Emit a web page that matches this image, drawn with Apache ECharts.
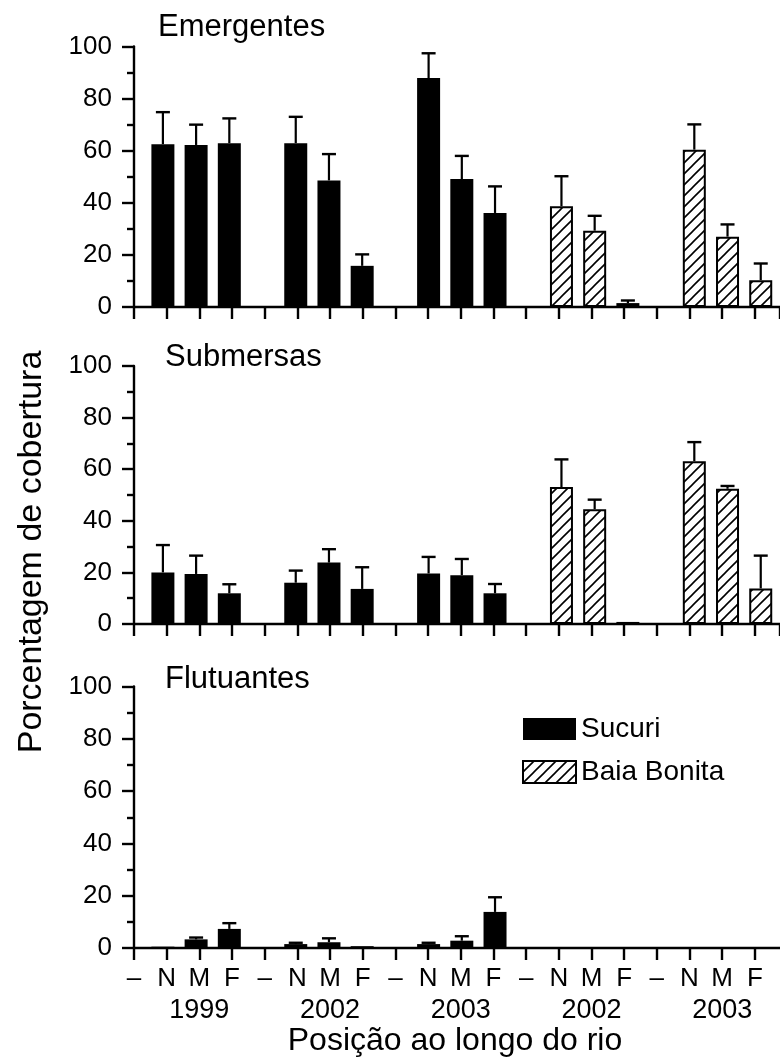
<!DOCTYPE html>
<html>
<head>
<meta charset="utf-8">
<script src="https://cdn.jsdelivr.net/npm/echarts@6/dist/echarts.min.js"></script>
<style>
  html, body { margin: 0; padding: 0; background: #fff; }
  #chart { width: 780px; height: 1062px; }
</style>
</head>
<body>
<div id="chart"></div>
<script>
// Positions along the river: one dash slot then N / M / F, five groups
const slotLabels = ['–','N','M','F','–','N','M','F','–','N','M','F','–','N','M','F','–','N','M','F'];
const yearLabels = { 2: '1999', 6: '2002', 10: '2003', 14: '2002', 18: '2003' };
const panelTitles = ['Emergentes', 'Submersas', 'Flutuantes'];
const seriesNames = ['Sucuri', 'Baia Bonita'];

// Slot index of each bar
const sucuriSlots = [1, 2, 3, 5, 6, 7, 9, 10, 11];
const baiaSlots = [13, 14, 15, 17, 18, 19];

// Emergentes (% cover, mean and upper error)
const emergSucuri    = [62.5, 62.2, 62.9, 62.9, 48.6, 15.8, 87.9, 49.1, 36.1];
const emergSucuriErr = [12.3, 7.8, 9.5, 10.1, 10.1, 4.4, 9.5, 8.9, 10.2];
const emergBaia      = [38.7, 29.3, 1.5, 60.4, 27.0, 10.3];
const emergBaiaErr   = [11.5, 5.7, 1.0, 9.7, 4.7, 6.4];

// Submersas
const submSucuri    = [20.0, 19.4, 11.9, 16.0, 23.8, 13.6, 19.6, 18.9, 11.9];
const submSucuriErr = [10.6, 7.1, 3.5, 4.7, 5.2, 8.4, 6.4, 6.3, 3.6];
const submBaia      = [53.1, 44.5, 0.8, 63.1, 52.4, 13.8];
const submBaiaErr   = [10.7, 3.7, 0, 7.4, 1.1, 12.7];

// Flutuantes
const flutSucuri    = [0.5, 3.3, 7.3, 1.5, 2.2, 0.7, 1.5, 2.8, 13.8];
const flutSucuriErr = [0, 0.7, 2.2, 0.5, 1.5, 0, 0.5, 1.7, 5.6];
const flutBaia      = [0, 0, 0, 0, 0, 0];
const flutBaiaErr   = [0, 0, 0, 0, 0, 0];

const panels = [
  { sucuri: emergSucuri, sucuriErr: emergSucuriErr, baia: emergBaia, baiaErr: emergBaiaErr },
  { sucuri: submSucuri,  sucuriErr: submSucuriErr,  baia: submBaia,  baiaErr: submBaiaErr },
  { sucuri: flutSucuri,  sucuriErr: flutSucuriErr,  baia: flutBaia,  baiaErr: flutBaiaErr }
];

// Layout
const FONT = 'Liberation Sans, Arial, sans-serif';
const gridTops = [46.5, 366, 686.5];
const gridHeights = [260.5, 258, 261.5];
const titlePos = [[158, 27], [165, 357.5], [165, 679]];
const LW = 2.4;

// Diagonal hatch for Baia Bonita
function makeHatch() {
  const s = 11;
  const c = document.createElement('canvas');
  c.width = s; c.height = s;
  const g = c.getContext('2d');
  g.fillStyle = '#fff';
  g.fillRect(0, 0, s, s);
  g.strokeStyle = '#000';
  g.lineWidth = 1.6;
  g.beginPath();
  g.moveTo(-2, s + 2); g.lineTo(s + 2, -2);
  g.moveTo(-2, 2); g.lineTo(2, -2);
  g.moveTo(s - 2, s + 2); g.lineTo(s + 2, s - 2);
  g.stroke();
  return c;
}
const hatchFill = { image: makeHatch(), repeat: 'repeat' };

function pairs(slots, vals) { return slots.map((s, i) => [s, vals[i]]); }
function triples(slots, vals, errs) { return slots.map((s, i) => [s, vals[i], errs[i]]); }

function errRender(params, api) {
  const x = api.value(0), v = api.value(1), e = api.value(2);
  if (!(e > 0)) return null;
  const p0 = api.coord([x, v]);
  const p1 = api.coord([x, v + e]);
  const half = 7;
  return {
    type: 'group',
    children: [
      { type: 'line', shape: { x1: p0[0], y1: p0[1], x2: p1[0], y2: p1[1] }, style: { stroke: '#000', lineWidth: 2.2 } },
      { type: 'line', shape: { x1: p1[0] - half, y1: p1[1], x2: p1[0] + half, y2: p1[1] }, style: { stroke: '#000', lineWidth: 2.4 } }
    ]
  };
}

const grid = [], xAxis = [], yAxis = [], series = [], graphic = [];

panels.forEach((p, k) => {
  grid.push({ left: 134, right: 0, top: gridTops[k], height: gridHeights[k] });

  // Visible slot axis (ticks and labels at each position)
  xAxis.push({
    type: 'value', gridIndex: k, min: 0, max: 19.77, interval: 1,
    axisLine: { show: true, onZero: false, lineStyle: { color: '#000', width: LW } },
    axisTick: { show: true, length: 12, lineStyle: { color: '#000', width: LW } },
    splitLine: { show: false },
    axisLabel: {
      show: k === 2, margin: 15, color: '#000', showMaxLabel: false,
      formatter: v => {
        const i = Math.round(v);
        if (Math.abs(v - i) > 1e-6 || i > 19) return '';
        const yr = yearLabels[i];
        return yr ? '{s|' + slotLabels[i] + '}\n{y|' + yr + '}' : '{s|' + slotLabels[i] + '}';
      },
      rich: {
        s: { fontSize: 26, lineHeight: 32, fontFamily: FONT, color: '#000' },
        y: { fontSize: 27, lineHeight: 32, fontFamily: FONT, color: '#000' }
      }
    }
  });
  // Hidden axis carrying the bars
  xAxis.push({ type: 'value', gridIndex: k, min: 0.13, max: 19.58, show: false });

  yAxis.push({
    type: 'value', gridIndex: k, min: 0, max: 100, interval: 20,
    axisLine: { show: true, onZero: false, lineStyle: { color: '#000', width: LW } },
    axisTick: { show: true, length: 12, lineStyle: { color: '#000', width: LW } },
    minorTick: { show: true, splitNumber: 2, length: 7, lineStyle: { color: '#000', width: LW } },
    splitLine: { show: false },
    axisLabel: { margin: 22, fontSize: 26, color: '#000', fontFamily: FONT }
  });

  const bx = 2 * k + 1;
  series.push({
    name: seriesNames[0], type: 'bar', xAxisIndex: bx, yAxisIndex: k,
    barWidth: 23, barGap: '-100%',
    itemStyle: { color: '#000' },
    data: pairs(sucuriSlots, p.sucuri)
  });
  series.push({
    name: seriesNames[1], type: 'bar', xAxisIndex: bx, yAxisIndex: k,
    barWidth: 23, barGap: '-100%',
    itemStyle: { color: hatchFill, borderColor: '#000', borderWidth: 2 },
    data: pairs(baiaSlots, p.baia)
  });
  series.push({
    type: 'custom', xAxisIndex: bx, yAxisIndex: k, renderItem: errRender, z: 3,
    data: triples(sucuriSlots, p.sucuri, p.sucuriErr).concat(triples(baiaSlots, p.baia, p.baiaErr))
  });

  graphic.push({
    type: 'text', x: titlePos[k][0], y: titlePos[k][1],
    style: { text: panelTitles[k], font: '31px ' + FONT, fill: '#000', verticalAlign: 'middle' }
  });
});

graphic.push({
  type: 'text', x: 32, y: 552, rotation: Math.PI / 2,
  style: { text: 'Porcentagem de cobertura', font: '34px ' + FONT, fill: '#000', align: 'center', verticalAlign: 'middle' }
});
graphic.push({
  type: 'text', x: 455, y: 1041,
  style: { text: 'Posição ao longo do rio', font: '32px ' + FONT, fill: '#000', align: 'center', verticalAlign: 'middle' }
});

const chart = echarts.init(document.getElementById('chart'), null, { renderer: 'canvas' });
chart.setOption({
  animation: false,
  backgroundColor: '#fff',
  textStyle: { fontFamily: FONT, color: '#000' },
  legend: {
    data: seriesNames, orient: 'vertical', left: 522, top: 715, padding: 0,
    icon: 'rect', itemWidth: 53, itemHeight: 22, itemGap: 15,
    textStyle: { fontSize: 28, color: '#000', fontFamily: FONT }
  },
  grid, xAxis, yAxis, series, graphic
});
</script>
</body>
</html>
